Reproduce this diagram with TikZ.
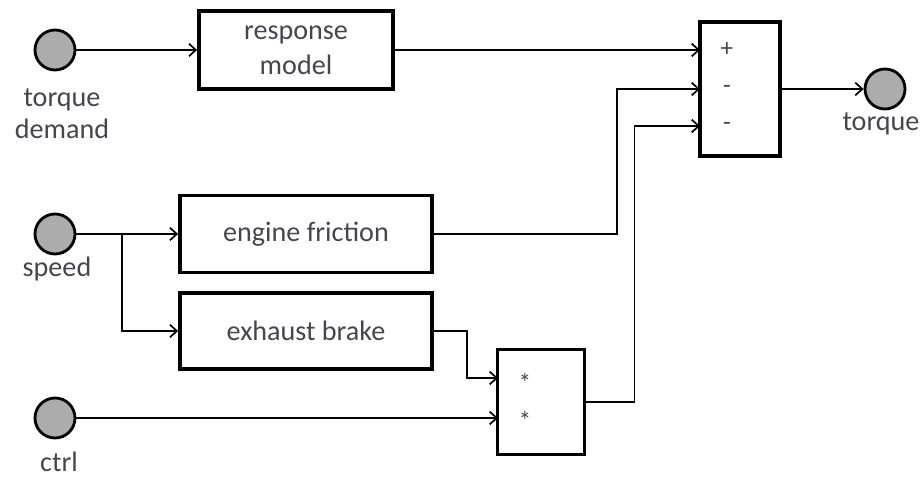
\documentclass[tikz,border=0pt]{standalone}
\usepackage{fontspec}
\setmainfont{Carlito}
\usepackage{tikz}
\usetikzlibrary{arrows.meta}
\definecolor{texto}{HTML}{45454F}

\begin{document}
\begin{tikzpicture}[x=0.025cm, y=-0.025cm,
							bloque/.style={draw, line width=2.6pt, text=texto, align=center, font=\fontsize{20}{27}\selectfont},
							puerto/.style={draw, circle, line width=2pt, fill=gray!65, minimum size=1cm, inner sep=0pt},
							etiqueta/.style={text=texto, align=center, font=\fontsize{20}{23}\selectfont},
							signo/.style={text=texto, font=\fontsize{18}{18}\selectfont},
							flecha/.style={-{Straight Barb[length=5pt, width=9pt, line width=1.2pt]}, line width=1.1pt}
							]
							\useasboundingbox (0,0) rectangle (924,477);
							
							% Entradas y salida
							\node[puerto] (tdem) at (55,50) {};
							\node[puerto] (spd) at (55,234) {};
							\node[puerto] (ctrl) at (55,418) {};
							\node[puerto] (torq) at (885,89) {};
							\node[etiqueta] (ltdem) at (62,114) {torque\\demand};
							\node[etiqueta] (lspd) at (57,269) {speed};
							\node[etiqueta] (lctrl) at (59,462) {ctrl};
							\node[etiqueta] (ltorq) at (881,124) {torque};
							
							% Bloques
							\node[bloque, minimum width=4.85cm, minimum height=1.95cm] (resp) at (296,50) {response\\[-2pt]model};
							\node[bloque, minimum width=6.3cm, minimum height=1.93cm] (fric) at (306,234) {engine friction};
							\node[bloque, minimum width=6.3cm, minimum height=1.9cm] (exh) at (306,331) {exhaust brake};
							\node[bloque, minimum width=2.18cm, minimum height=2.63cm] (prod) at (541,402) {};
							\node[bloque, minimum width=2cm, minimum height=3.35cm] (sum) at (740,89) {};
							
							% Signos de los bloques
							\node[signo] (mas) at (727,50) {+};
							\node[signo] (menA) at (727,89) {-};
							\node[signo] (menB) at (727,126) {-};
							\node[signo] (porA) at (525,383) {*};
							\node[signo] (porB) at (525,421) {*};
							
							% Puntos de entrada
							\coordinate (s1) at (700,50);
							\coordinate (s2) at (700,89);
							\coordinate (s3) at (700,126);
							\coordinate (p1) at (498,378);
							\coordinate (p2) at (498,418);
							\coordinate (ram) at (122,234);
							
							% Conexiones
							\draw[flecha] (tdem) -- (resp);
							\draw[flecha] (resp.east) -- (s1);
							\draw[flecha] (spd) -- (fric);
							\draw[flecha] (ram) |- (exh.west);
							\draw[flecha] (fric.east) -- ++(183,0) |- (s2);
							\draw[flecha] (exh.east) -- ++(33,0) |- (p1);
							\draw[flecha] (ctrl) -- (p2);
							\draw[flecha] (prod.east) -- ++(48,0) |- (s3);
							\draw[flecha] (sum) -- (torq);
						\end{tikzpicture}
\end{document}
